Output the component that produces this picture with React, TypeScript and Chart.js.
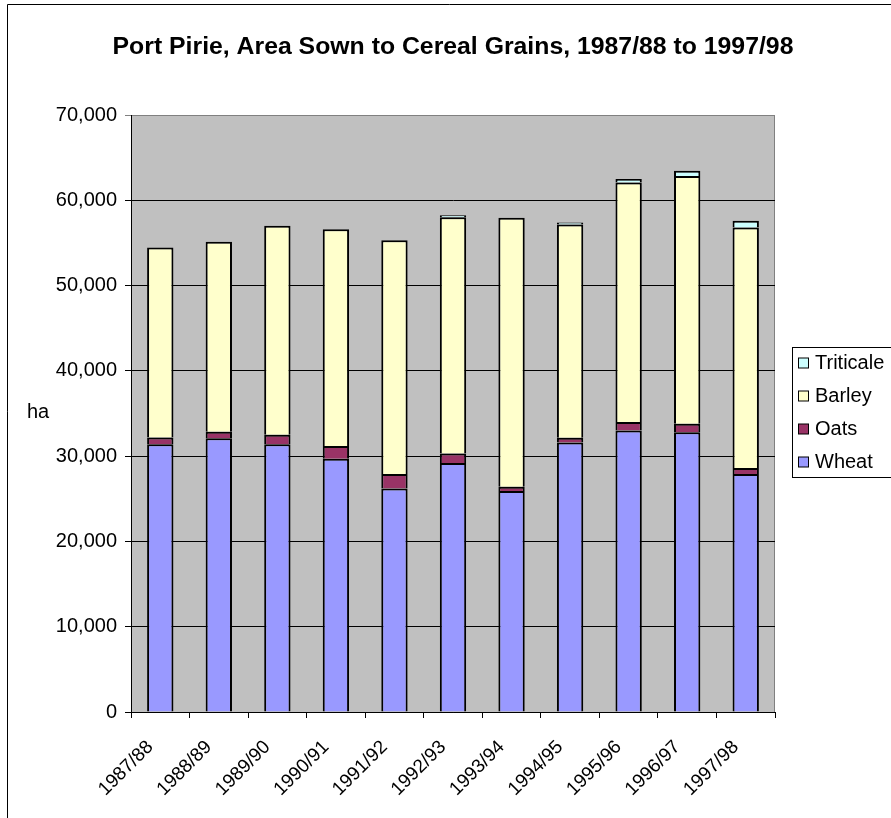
import React, { useEffect, useRef } from "react";
import { Chart, registerables } from "chart.js";

Chart.register(...registerables);

const TITLE = "Port Pirie, Area Sown to Cereal Grains, 1987/88 to 1997/98";
const Y_TITLE = "ha";
const categories = ["1987/88", "1988/89", "1989/90", "1990/91", "1991/92", "1992/93", "1993/94", "1994/95", "1995/96", "1996/97", "1997/98"];
const wheat = [31400, 32100, 31400, 29700, 26200, 29200, 25900, 31600, 33000, 32800, 27900];
const oats = [800, 750, 1100, 1500, 1700, 1100, 500, 550, 1000, 1000, 700];
const barley = [22250, 22300, 24500, 25400, 27400, 27700, 31550, 25000, 28100, 29050, 28200];
const triticale = [null, null, null, null, null, 250, null, 250, 400, 600, 800];
const yMin = 0;
const yMax = 70000;
const yStep = 10000;

const FONT = "'Liberation Sans', Arial, sans-serif";

export default function App() {
  const ref = useRef<HTMLCanvasElement | null>(null);

  useEffect(() => {
    document.body.style.margin = "0";
    const canvas = ref.current;
    if (!canvas) return;

    const decor = {
      id: "decor",
      beforeDraw(chart: any) {
        const { ctx, chartArea: a } = chart;
        ctx.save();
        ctx.fillStyle = "#ffffff";
        ctx.fillRect(0, 0, chart.width, chart.height);
        ctx.fillStyle = "#C0C0C0";
        ctx.fillRect(a.left, a.top, a.right - a.left, a.bottom - a.top);
        ctx.strokeStyle = "#808080";
        ctx.lineWidth = 1;
        ctx.strokeRect(a.left + 0.5, a.top + 0.5, a.right - a.left - 1, a.bottom - a.top);
        // outer frame
        ctx.strokeStyle = "#000000";
        ctx.beginPath();
        ctx.moveTo(7.5, chart.height);
        ctx.lineTo(7.5, 4.5);
        ctx.lineTo(chart.width, 4.5);
        ctx.stroke();
        ctx.restore();
      },
      afterDraw(chart: any) {
        const { ctx } = chart;
        ctx.save();
        // title
        ctx.fillStyle = "#000";
        ctx.font = `bold 24.8px ${FONT}`;
        ctx.textAlign = "center";
        ctx.textBaseline = "middle";
        ctx.fillText(TITLE, 453, 47);
        // y title
        ctx.font = `20px ${FONT}`;
        ctx.textAlign = "left";
        ctx.fillText(Y_TITLE, 27, 412);
        // legend
        const lx = 792, ly = 347, lh = 130;
        ctx.strokeStyle = "#000";
        ctx.lineWidth = 1;
        ctx.strokeRect(lx + 0.5, ly + 0.5, 200, lh);
        const ds = chart.data.datasets.slice().reverse();
        ds.forEach((d: any, i: number) => {
          const cy = 363 + i * 33;
          ctx.fillStyle = d.backgroundColor;
          ctx.fillRect(798.5, cy - 5, 10, 10);
          ctx.strokeStyle = "#000";
          ctx.strokeRect(798.5, cy - 5, 10, 10);
          ctx.fillStyle = "#000";
          ctx.font = `20px ${FONT}`;
          ctx.textAlign = "left";
          ctx.textBaseline = "middle";
          ctx.fillText(d.label, 815, cy);
        });
        ctx.restore();
      },
    };

    const mk = (label: string, data: any[], color: string) => ({
      label,
      data,
      backgroundColor: color,
      borderColor: "#000000",
      borderWidth: 2,
      borderSkipped: "start",
      barPercentage: 0.45,
      categoryPercentage: 1,
    });

    const chart = new Chart(canvas, {
      type: "bar",
      data: {
        labels: categories,
        datasets: [
          mk("Wheat", wheat, "#9999FF"),
          mk("Oats", oats, "#993366"),
          mk("Barley", barley, "#FFFFCC"),
          mk("Triticale", triticale, "#CCFFFF"),
        ],
      },
      options: {
        responsive: false,
        animation: false,
        devicePixelRatio: 1,
        layout: { padding: { top: 115, right: 116, bottom: 0, left: 0 } },
        plugins: {
          legend: { display: false },
          title: { display: false },
          tooltip: { enabled: false },
        },
        scales: {
          x: {
            stacked: true,
            offset: true,
            afterFit: (s: any) => { s.height = 818 - 712; },
            grid: {
              offset: true,
              drawOnChartArea: false,
              drawTicks: true,
              tickLength: 6,
              color: "#000000",
            },
            border: { display: true, color: "#000000", width: 1 },
            ticks: {
              autoSkip: false,
              minRotation: 45,
              maxRotation: 45,
              color: "#000",
              padding: 18,
              labelOffset: -10,
              font: { family: FONT, size: 19 },
            },
          },
          y: {
            stacked: true,
            min: yMin,
            max: yMax,
            afterFit: (s: any) => { s.width = 131; },
            grid: {
              drawTicks: true,
              tickLength: 6,
              color: (c: any) => (c.tick && c.tick.value === yMax ? "#808080" : "#000000"),
            },
            border: { display: true, color: "#000000", width: 1 },
            ticks: {
              stepSize: yStep,
              color: "#000",
              padding: 8,
              font: { family: FONT, size: 20 },
              callback: (v: any) => Number(v).toLocaleString("en-US"),
            },
          },
        },
      },
      plugins: [decor],
    });

    return () => chart.destroy();
  }, []);

  return (
    <div style={{ width: 891, height: 818, overflow: "hidden" }}>
      <canvas ref={ref} width={891} height={818} style={{ display: "block", width: 891, height: 818 }} />
    </div>
  );
}
